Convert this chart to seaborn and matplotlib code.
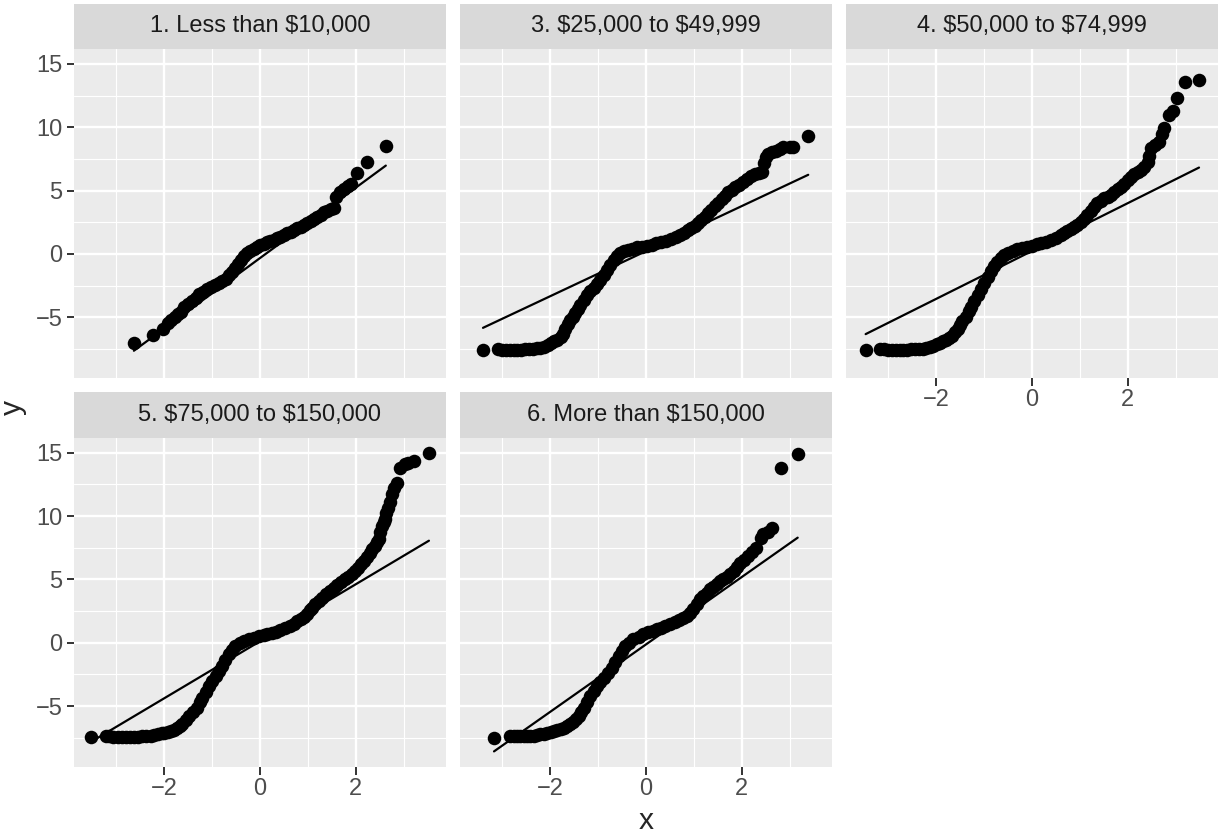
import numpy as np
import pandas as pd
import matplotlib
matplotlib.use("Agg")
import matplotlib.pyplot as plt
import seaborn as sns

# ---- data (theoretical quantile, sample quantile) ----
panel_titles = ["1. Less than $10,000", "3. $25,000 to $49,999", "4. $50,000 to $74,999",
                "5. $75,000 to $150,000", "6. More than $150,000"]

p1_x = [-2.63, -2.23, -2.02, -1.92, -1.85, -1.78, -1.71, -1.64, -1.58, -1.50, -1.42, -1.34, -1.26,
        -1.18, -1.10, -1.02, -0.94, -0.86, -0.78, -0.70, -0.64, -0.58, -0.52, -0.46, -0.40, -0.34,
        -0.27, -0.20, -0.13, -0.06, 0.01, 0.08, 0.15, 0.22, 0.29, 0.36, 0.43, 0.50, 0.57, 0.64, 0.71,
        0.78, 0.85, 0.92, 0.99, 1.06, 1.13, 1.20, 1.27, 1.34, 1.41, 1.48, 1.55, 1.60, 1.68, 1.76,
        1.84, 1.90, 2.03, 2.24, 2.63]
p1_y = [-7.05, -6.39, -5.95, -5.45, -5.2, -4.95, -4.78, -4.6, -4.2, -3.95, -3.7, -3.45, -3.15,
        -3.0, -2.8, -2.62, -2.45, -2.28, -2.15, -2.0, -1.7, -1.4, -1.15, -0.8, -0.47, -0.2,
        0.05, 0.22, 0.38, 0.52, 0.68, 0.8, 0.9, 1.0, 1.1, 1.22, 1.36, 1.5, 1.63, 1.76, 1.9,
        2.03, 2.16, 2.28, 2.42, 2.58, 2.75, 2.92, 3.1, 3.28, 3.4, 3.52, 3.62, 4.5, 4.85, 5.15,
        5.38, 5.5, 6.42, 7.24, 8.53]

p3_x = [-3.40, -3.08, -3.00, -2.92, -2.84, -2.76, -2.68, -2.60, -2.52, -2.44, -2.36, -2.28, -2.20,
        -2.12, -2.05, -1.98, -1.92, -1.85, -1.78, -1.73, -1.68, -1.63, -1.58, -1.53, -1.47, -1.42,
        -1.37, -1.30, -1.23, -1.16, -1.09, -1.02, -0.95, -0.88, -0.81, -0.74, -0.67, -0.60, -0.53,
        -0.45, -0.37, -0.28, -0.18, -0.08, 0.02, 0.12, 0.22, 0.32, 0.42, 0.52, 0.62, 0.72, 0.80,
        0.88, 0.95, 1.02, 1.09, 1.16, 1.23, 1.30, 1.37, 1.44, 1.51, 1.58, 1.65, 1.72, 1.79, 1.86,
        1.94, 2.03, 2.12, 2.20, 2.28, 2.36, 2.42, 2.46, 2.50, 2.56, 2.63, 2.72, 2.80, 2.87, 3.00,
        3.08, 3.39]
p3_y = [-7.63, -7.55, -7.56, -7.57, -7.57, -7.57, -7.57, -7.56, -7.54, -7.52, -7.49, -7.45, -7.40,
        -7.32, -7.2, -7.05, -6.92, -6.78, -6.6, -6.3, -5.9, -5.55, -5.21, -4.95, -4.68, -4.35,
        -4.03, -3.63, -3.24, -2.95, -2.71, -2.4, -2.05, -1.65, -1.26, -0.85, -0.47, -0.15, 0.05,
        0.2, 0.32, 0.42, 0.52, 0.58, 0.65, 0.72, 0.82, 0.92, 1.03, 1.15, 1.3, 1.5, 1.68,
        1.85, 2.03, 2.22, 2.45, 2.7, 2.95, 3.2, 3.48, 3.75, 4.0, 4.3, 4.6, 4.88, 5.08, 5.25,
        5.45, 5.71, 5.95, 6.15, 6.3, 6.42, 6.5, 7.2, 7.68, 7.9, 8.08, 8.15, 8.3, 8.47, 8.42,
        8.47, 9.34]

p4_x = [-3.47, -3.16, -3.08, -3.00, -2.92, -2.84, -2.76, -2.68, -2.60, -2.52, -2.44, -2.36, -2.28,
        -2.20, -2.13, -2.06, -1.99, -1.92, -1.85, -1.79, -1.72, -1.66, -1.60, -1.55, -1.51, -1.45,
        -1.38, -1.32, -1.27, -1.20, -1.13, -1.06, -0.99, -0.92, -0.85, -0.78, -0.72, -0.65, -0.58,
        -0.50, -0.40, -0.30, -0.20, -0.10, 0.0, 0.10, 0.20, 0.30, 0.40, 0.50, 0.60, 0.67, 0.74,
        0.81, 0.88, 0.95, 1.02, 1.09, 1.16, 1.23, 1.30, 1.37, 1.44, 1.51, 1.58, 1.65, 1.72, 1.79,
        1.86, 1.93, 2.00, 2.07, 2.14, 2.21, 2.28, 2.35, 2.42, 2.45, 2.49, 2.58, 2.66, 2.72, 2.76,
        2.87, 2.94, 3.04, 3.19, 3.49]
p4_y = [-7.58, -7.53, -7.55, -7.56, -7.57, -7.57, -7.57, -7.57, -7.56, -7.55, -7.54, -7.52, -7.48,
        -7.43, -7.37, -7.28, -7.15, -7.0, -6.9, -6.79, -6.62, -6.45, -6.2, -5.9, -5.61, -5.3,
        -4.95, -4.5, -4.16, -3.7, -3.24, -2.78, -2.32, -1.85, -1.39, -0.98, -0.61, -0.3, -0.08,
        0.1, 0.26, 0.38, 0.48, 0.57, 0.65, 0.74, 0.85, 0.97, 1.11, 1.28, 1.48, 1.63, 1.8,
        1.98, 2.12, 2.29, 2.5, 2.78, 3.08, 3.35, 3.7, 4.0, 4.2, 4.38, 4.52, 4.66, 4.88, 5.1,
        5.32, 5.55, 5.85, 6.11, 6.28, 6.45, 6.63, 6.9, 7.24, 7.7, 8.34, 8.6, 8.87, 9.5, 9.92,
        10.97, 11.29, 12.29, 13.61, 13.74]

p5_x = [-3.53, -3.22, -3.14, -3.06, -2.97, -2.88, -2.80, -2.72, -2.63, -2.54, -2.45, -2.37, -2.28,
        -2.20, -2.12, -2.05, -2.00, -1.92, -1.85, -1.79, -1.73, -1.67, -1.62, -1.55, -1.48, -1.40,
        -1.31, -1.25, -1.20, -1.13, -1.06, -0.99, -0.92, -0.85, -0.78, -0.72, -0.65, -0.58, -0.51,
        -0.42, -0.33, -0.23, -0.13, -0.02, 0.08, 0.15, 0.25, 0.34, 0.43, 0.52, 0.62, 0.71, 0.78,
        0.85, 0.92, 0.98, 1.04, 1.09, 1.16, 1.23, 1.30, 1.38, 1.46, 1.54, 1.62, 1.70, 1.78, 1.85,
        1.92, 1.99, 2.05, 2.11, 2.17, 2.23, 2.29, 2.34, 2.40, 2.45, 2.48, 2.51, 2.55, 2.59, 2.62,
        2.64, 2.67, 2.71, 2.76, 2.81, 2.86, 2.93, 3.03, 3.10, 3.21, 3.53]
p5_y = [-7.42, -7.37, -7.38, -7.4, -7.42, -7.42, -7.42, -7.42, -7.42, -7.41, -7.39, -7.36, -7.32,
        -7.28, -7.22, -7.16, -7.11, -7.02, -6.95, -6.89, -6.75, -6.6, -6.45, -6.12, -5.79, -5.45,
        -5.13, -4.7, -4.34, -3.88, -3.42, -3.02, -2.63, -2.23, -1.84, -1.38, -0.92, -0.55, -0.26,
        -0.02, 0.13, 0.27, 0.39, 0.52, 0.6, 0.66, 0.76, 0.88, 1.0, 1.15, 1.32, 1.5, 1.68,
        1.85, 2.05, 2.3, 2.55, 2.76, 3.02, 3.3, 3.55, 3.82, 4.08, 4.34, 4.56, 4.78, 5.0, 5.2,
        5.42, 5.66, 5.92, 6.18, 6.45, 6.75, 7.05, 7.37, 7.65, 7.95, 8.16, 8.7, 9.21, 9.5, 9.74,
        10.2, 10.66, 11.1, 11.71, 12.2, 12.63, 13.82, 14.08, 14.2, 14.34, 15.0]

p6_x = [-3.17, -2.84, -2.76, -2.68, -2.62, -2.55, -2.48, -2.41, -2.34, -2.27, -2.20, -2.13, -2.06,
        -1.99, -1.92, -1.85, -1.78, -1.71, -1.64, -1.58, -1.52, -1.46, -1.40, -1.35, -1.30, -1.23,
        -1.16, -1.09, -1.02, -0.95, -0.88, -0.80, -0.71, -0.64, -0.57, -0.50, -0.43, -0.35, -0.26,
        -0.15, -0.05, 0.05, 0.14, 0.23, 0.32, 0.41, 0.51, 0.60, 0.69, 0.78, 0.85, 0.92, 0.99,
        1.06, 1.13, 1.20, 1.27, 1.34, 1.41, 1.48, 1.55, 1.62, 1.69, 1.76, 1.83, 1.90, 1.97, 2.05,
        2.14, 2.22, 2.31, 2.40, 2.45, 2.55, 2.63, 2.82, 3.17]
p6_y = [-7.5, -7.32, -7.34, -7.36, -7.37, -7.36, -7.35, -7.34, -7.32, -7.28, -7.23, -7.17, -7.11,
        -7.05, -6.98, -6.92, -6.84, -6.72, -6.58, -6.45, -6.25, -6.02, -5.79, -5.45, -5.13, -4.67,
        -4.21, -3.8, -3.42, -3.08, -2.76, -2.38, -1.97, -1.5, -1.05, -0.63, -0.26, 0.02, 0.26,
        0.48, 0.66, 0.82, 0.94, 1.05, 1.17, 1.3, 1.45, 1.62, 1.78, 1.97, 2.15, 2.37, 2.63,
        3.02, 3.42, 3.7, 3.96, 4.21, 4.43, 4.66, 4.87, 5.02, 5.2, 5.39, 5.65, 5.98, 6.32, 6.55,
        6.84, 7.15, 7.5, 8.3, 8.55, 8.7, 9.03, 13.82, 14.87]

# reference line (qq line) per panel
line_slope = [2.78, 1.78, 1.89, 2.25, 2.66]
line_intercept = [-0.34, 0.21, 0.22, 0.11, -0.14]

panel_x = [p1_x, p3_x, p4_x, p5_x, p6_x]
panel_y = [p1_y, p3_y, p4_y, p5_y, p6_y]

# ---- style ----
sns.set_theme(style="darkgrid", rc={"axes.facecolor": "#EBEBEB", "grid.color": "white"})
plt.rcParams["font.family"] = ["Liberation Sans", "DejaVu Sans"]

W, H = 1218, 836
fig = plt.figure(figsize=(W / 100, H / 100), dpi=100)
fig.patch.set_facecolor("white")

col_left = [74, 460, 846]
panel_w = 371.7
# (strip top, panel top, panel bottom) in pixels
rows = [(3.5, 49, 377.7), (392.3, 437.7, 766.7)]
grid_pos = [(0, 0), (0, 1), (0, 2), (1, 0), (1, 1)]

for i, (r, c) in enumerate(grid_pos):
    st, pt, pb = rows[r]
    ax = fig.add_axes([col_left[c] / W, 1 - pb / H, panel_w / W, (pb - pt) / H])
    sax = fig.add_axes([col_left[c] / W, 1 - pt / H, panel_w / W, (pt - st) / H])

    df = pd.DataFrame({"x": panel_x[i], "y": panel_y[i]})
    sns.scatterplot(data=df, x="x", y="y", ax=ax, color="black", s=95,
                    linewidth=0, zorder=3, legend=False)
    xl = np.array([df["x"].min(), df["x"].max()])
    sns.lineplot(x=xl, y=line_intercept[i] + line_slope[i] * xl, ax=ax,
                 color="black", linewidth=1.6, zorder=4)

    ax.set_xlim(-3.88, 3.88)
    ax.set_ylim(-9.78, 16.18)
    ax.set_xticks([-2, 0, 2])
    ax.set_xticks([-3, -1, 1, 3], minor=True)
    ax.set_yticks([-5, 0, 5, 10, 15])
    ax.set_yticks([-7.5, -2.5, 2.5, 7.5, 12.5], minor=True)
    ax.set_axisbelow(True)
    ax.grid(which="major", color="white", linewidth=1.7)
    ax.grid(which="minor", color="white", linewidth=0.85)
    for sp in ax.spines.values():
        sp.set_visible(False)
    ax.set_xlabel("")
    ax.set_ylabel("")

    show_y = c == 0
    show_x = r == 1 or c == 2
    ax.tick_params(axis="y", which="major", left=show_y, labelleft=show_y, length=5.4,
                   width=1.4, color="#333333", labelcolor="#4D4D4D", labelsize=17, pad=3)
    ax.tick_params(axis="x", which="major", bottom=show_x, labelbottom=show_x, length=5.4,
                   width=1.4, color="#333333", labelcolor="#4D4D4D", labelsize=17, pad=3)
    ax.tick_params(which="minor", length=0, labelleft=False, labelbottom=False)

    sax.set_facecolor("#D9D9D9")
    sax.set_xticks([])
    sax.set_yticks([])
    sax.grid(False)
    for sp in sax.spines.values():
        sp.set_visible(False)
    sax.text(0.5, 0.5, panel_titles[i], ha="center", va="center", fontsize=17,
             color="#1A1A1A", transform=sax.transAxes, parse_math=False)

fig.text(645.9 / W, 1 - 821 / H, "x", ha="center", va="center", fontsize=21.6)
fig.text(13 / W, 1 - 407.8 / H, "y", rotation=90, ha="center", va="center", fontsize=21.6)

fig.savefig("out.png", dpi=100, facecolor="white")
